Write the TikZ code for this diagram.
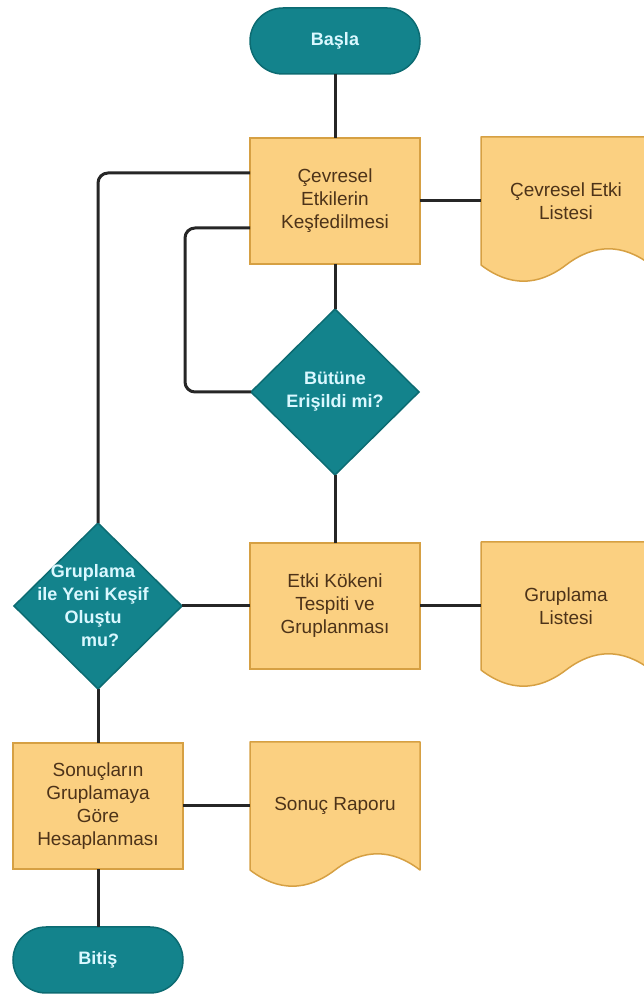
\documentclass[tikz,border=0pt]{standalone}
\usepackage{fontspec}
\setmainfont{Liberation Sans}
\usepackage{tikz}
\usetikzlibrary{shapes.geometric,backgrounds}

\definecolor{tealfill}{HTML}{13838C}
\definecolor{tealline}{HTML}{0C6B72}
\definecolor{orfill}{HTML}{FBD081}
\definecolor{orline}{HTML}{D6A043}
\definecolor{ortext}{HTML}{4D3319}
\definecolor{cyantext}{HTML}{DAF8FF}
\definecolor{linecol}{HTML}{262626}

\newcommand\belge[1]{%
  \draw[orline,fill=orfill,line width=1.5pt,line join=round] (#1.north west) -- (#1.north east) -- (#1.south east)
    .. controls ([shift={(-28.3pt,21.6pt)}]#1.south east) and ([shift={(28.3pt,21.6pt)}]#1.south) .. (#1.south)
    .. controls ([shift={(-28.3pt,-21.6pt)}]#1.south) and ([shift={(28.3pt,-21.6pt)}]#1.south west) .. (#1.south west) -- cycle;}

\begin{document}
\begin{tikzpicture}[x=1pt,y=1pt,
    yazi/.style={font=\fontsize{19}{23}\selectfont},
    surec/.style={yazi,rectangle,draw=orline,fill=orfill,line width=1.5pt,minimum width=170pt,minimum height=126pt,text=ortext,align=center,outer sep=0pt},
    karar/.style={diamond,draw=tealline,fill=tealfill,line width=1.5pt,minimum width=168pt,minimum height=166pt,inner sep=0pt,outer sep=0pt},
    kararyazi/.style={text=cyantext,align=center,font=\fontsize{18}{23}\selectfont\bfseries},
    uc/.style={rectangle,rounded corners=33pt,draw=tealline,fill=tealfill,line width=1.5pt,minimum width=170pt,minimum height=66pt,text=cyantext,font=\fontsize{18}{23}\selectfont\bfseries,outer sep=0pt},
    belgekutu/.style={yazi,rectangle,minimum width=170pt,minimum height=128pt,text=ortext,align=center,outer sep=0pt},
    baglanti/.style={draw=linecol,line width=3pt,rounded corners=10pt}]

    \useasboundingbox (0,0) rectangle (643,996);

    \node[uc] (basla) at (335,955) {Başla};
    \node[surec] (kesif) at (335,795) {Çevresel\\Etkilerin\\Keşfedilmesi};
    \node[belgekutu] (liste1) at (566,795) {Çevresel Etki\\Listesi};
    \node[karar,label={[kararyazi]center:Bütüne\\Erişildi mi?}] (butune) at (335,604) {};
    \node[surec] (koken) at (335,390) {Etki Kökeni\\Tespiti ve\\Gruplanması};
    \node[belgekutu] (liste2) at (566,390) {Gruplama\\Listesi};
    \node[karar,label={[kararyazi,xshift=-5pt]center:Gruplama\\ile Yeni Keşif\\Oluştu\hspace*{12pt}\\\hspace*{14pt}mu?}] (yenikesif) at (98,390) {};
    \node[surec] (sonuc) at (98,190) {Sonuçların\\Gruplamaya\\Göre\\Hesaplanması};
    \node[belgekutu] (rapor) at (335,190) {Sonuç Raporu};
    \node[uc] (bitis) at (98,36) {Bitiş};

    % belge sekilleri
    \begin{scope}[on background layer]
        \foreach \b in {liste1,liste2,rapor}
            {\belge{\b}}
    \end{scope}

    \draw[baglanti] (basla) -- (kesif);
    \draw[baglanti] (kesif) -- (liste1);
    \draw[baglanti] ([yshift=28pt]kesif.west) -| (yenikesif.north);
    \draw[baglanti] ([yshift=-27pt]kesif.west) -- ++(-65,0) |- (butune.west);
    \draw[baglanti] (kesif) -- (butune);
    \draw[baglanti] (butune) -- (koken);
    \draw[baglanti] (koken) -- (yenikesif);
    \draw[baglanti] (koken) -- (liste2);
    \draw[baglanti] (yenikesif) -- (sonuc);
    \draw[baglanti] (sonuc) -- (rapor);
    \draw[baglanti] (sonuc) -- (bitis);

\end{tikzpicture}
\end{document}
